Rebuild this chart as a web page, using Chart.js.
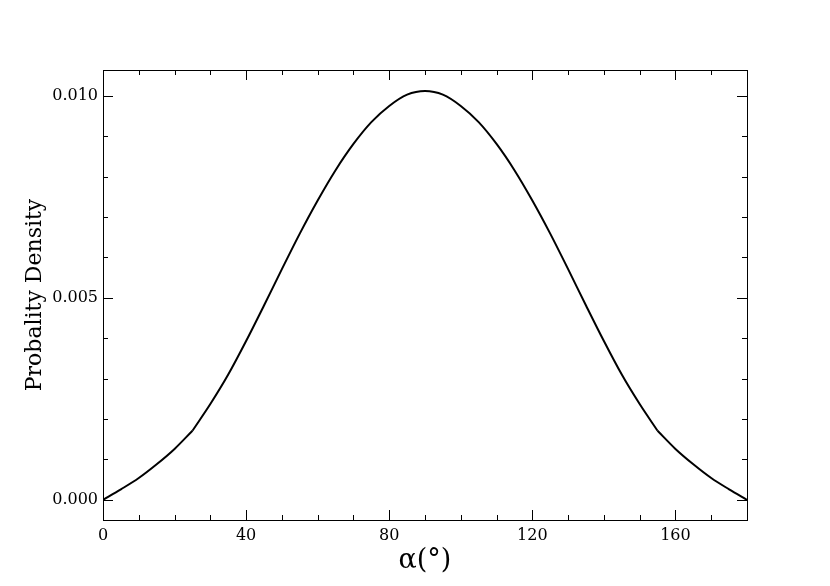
<!DOCTYPE html>
<html>
<head>
<meta charset="utf-8">
<script src="https://cdn.jsdelivr.net/npm/chart.js@4.4.0/dist/chart.umd.min.js"></script>
<style>
  html, body { margin: 0; padding: 0; background: #fff; }
  #wrap { width: 830px; height: 586px; }
</style>
</head>
<body>
<div id="wrap"><canvas id="chart" width="830" height="586"></canvas></div>
<script>
// Angle between vectors (degrees) and its probability density
const angles = [0, 5, 10, 15, 20, 25, 30, 35, 40, 45, 50, 55, 60, 65, 70, 75, 80, 85, 90,
                95, 100, 105, 110, 115, 120, 125, 130, 135, 140, 145, 150, 155, 160, 165, 170, 175, 180];
const density = [0.00000, 0.00026, 0.00054, 0.00088, 0.00126, 0.00171, 0.00237, 0.00310, 0.00393,
                 0.00481, 0.00571, 0.00659, 0.00741, 0.00816, 0.00881, 0.00935, 0.00975, 0.01003,
                 0.01012,
                 0.01003, 0.00975, 0.00935, 0.00881, 0.00816, 0.00741, 0.00659, 0.00571, 0.00481,
                 0.00393, 0.00310, 0.00237, 0.00171, 0.00126, 0.00088, 0.00054, 0.00026, 0.00000];
// the curve has kinks at these angles, so it is drawn as separate smooth pieces
const kinks = [25, 155];

const xMajorTicks = [0, 40, 80, 120, 160];
const xMinorTicks = [10, 20, 30, 50, 60, 70, 90, 100, 110, 130, 140, 150, 170];
const yMajorTicks = [0, 0.005, 0.010];
const yMinorTicks = [0.001, 0.002, 0.003, 0.004, 0.006, 0.007, 0.008, 0.009];

const FONT = "'DejaVu Serif', serif";

// frame on all four sides with inward-pointing ticks (matplotlib look)
const framePlugin = {
    id: 'frame',
    afterDraw(chart) {
        const { ctx, chartArea: a, scales } = chart;
        const xs = scales.x, ys = scales.y;
        ctx.save();
        ctx.strokeStyle = '#000';
        ctx.lineWidth = 1;
        ctx.strokeRect(Math.round(a.left) + 0.5, Math.round(a.top) + 0.5,
                       Math.round(a.right - a.left), Math.round(a.bottom - a.top));
        const tick = (vals, len, isX) => {
            vals.forEach(v => {
                ctx.beginPath();
                if (isX) {
                    const px = Math.round(xs.getPixelForValue(v)) + 0.5;
                    ctx.moveTo(px, a.bottom); ctx.lineTo(px, a.bottom - len);
                    ctx.moveTo(px, a.top); ctx.lineTo(px, a.top + len);
                } else {
                    const py = Math.round(ys.getPixelForValue(v)) + 0.5;
                    ctx.moveTo(a.left, py); ctx.lineTo(a.left + len, py);
                    ctx.moveTo(a.right, py); ctx.lineTo(a.right - len, py);
                }
                ctx.stroke();
            });
        };
        tick(xMajorTicks, 10, true);
        tick(xMinorTicks, 5, true);
        tick(yMajorTicks, 10, false);
        tick(yMinorTicks, 5, false);
        ctx.restore();
    }
};

const points = angles.map((a, i) => ({ x: a, y: density[i] }));
const bounds = [0, ...kinks, 180];
const pieces = [];
for (let k = 0; k < bounds.length - 1; k++) {
    pieces.push({
        data: points.filter(p => p.x >= bounds[k] && p.x <= bounds[k + 1]),
        borderColor: '#000',
        borderWidth: 2,
        pointRadius: 0,
        cubicInterpolationMode: 'monotone',
        fill: false
    });
}

new Chart(document.getElementById('chart'), {
    type: 'line',
    data: { datasets: pieces },
    options: {
        responsive: false,
        animation: false,
        layout: { padding: { left: 0, right: 83, top: 70, bottom: 0 } },
        plugins: { legend: { display: false }, tooltip: { enabled: false } },
        scales: {
            x: {
                type: 'linear',
                min: 0,
                max: 180,
                afterFit: s => { s.height = 66; },
                afterBuildTicks: s => { s.ticks = xMajorTicks.map(v => ({ value: v })); },
                grid: { display: false, drawTicks: false },
                border: { display: false },
                ticks: { color: '#000', padding: 6, maxRotation: 0, font: { family: FONT, size: 16 } },
                title: {
                    display: true,
                    text: 'α(°)',
                    color: '#000',
                    font: { family: FONT, size: 27 },
                    padding: { top: 0, bottom: 9 }
                }
            },
            y: {
                type: 'linear',
                min: -0.0005,
                max: 0.01064,
                afterFit: s => { s.width = 103; },
                afterBuildTicks: s => { s.ticks = yMajorTicks.map(v => ({ value: v })); },
                grid: { display: false, drawTicks: false },
                border: { display: false },
                ticks: {
                    color: '#000',
                    padding: 5,
                    font: { family: FONT, size: 16 },
                    callback: v => v.toFixed(3)
                },
                title: {
                    display: true,
                    text: 'Probality Density',
                    color: '#000',
                    font: { family: FONT, size: 22 },
                    padding: { top: 22, bottom: 0 }
                }
            }
        }
    },
    plugins: [framePlugin]
});
</script>
</body>
</html>
